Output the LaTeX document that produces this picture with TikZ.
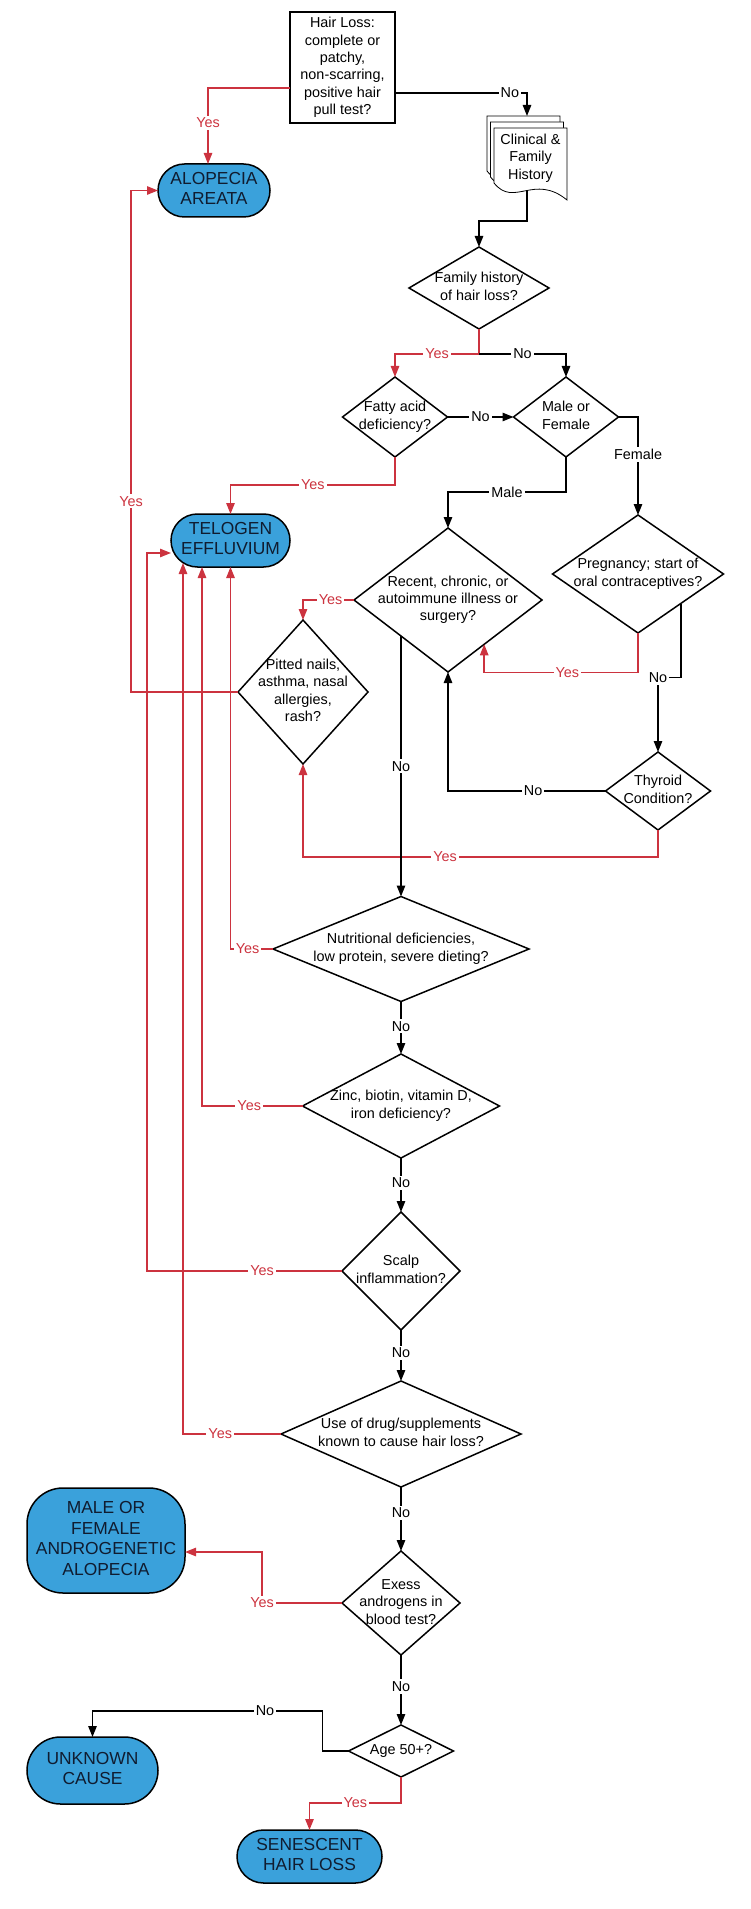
\documentclass[tikz,border=0pt]{standalone}
\usepackage{fontspec}
\setmainfont{Liberation Sans}
\usetikzlibrary{arrows.meta,calc,shapes.geometric,shapes.misc,backgrounds}
\definecolor{yesred}{RGB}{204,51,63}
\definecolor{outblue}{RGB}{58,161,219}
\definecolor{outtext}{RGB}{16,28,48}
\newcommand{\qfont}{\fontsize{7.2}{8.7}\selectfont}
\newcommand{\ofont}{\fontsize{8.7}{10.2}\selectfont}
\newcommand{\ztext}[1]{\raisebox{-.25em}[0pt][0pt]{\makebox[0pt]{\begin{tabular}{@{}c@{}}#1\end{tabular}}}}
\tikzset{
    >={Triangle[length=5.5pt,width=4.2pt]},
    question/.style={rectangle,draw,fill=white,align=center,font=\qfont,minimum width=52.5pt,minimum height=55.5pt,inner sep=1pt,outer sep=0pt},
    doc/.style={rectangle,align=center,font=\qfont,minimum width=36.5pt,minimum height=30pt,inner sep=0pt,outer sep=0pt},
    decision/.style 2 args={diamond,draw,fill=white,font=\qfont,inner sep=0pt,outer sep=0pt,minimum width=#1*0.5pt,minimum height=#2*0.5pt},
    outcome/.style 2 args={rounded rectangle,draw,fill=outblue,text=outtext,font=\ofont,inner sep=0pt,outer sep=0pt,minimum width=#1*0.5pt,minimum height=#2*0.5pt},
    ans/.style={fill=white,inner sep=1pt,font=\qfont},
    noline/.style={->,color=black},
    yesline/.style={->,color=yesred},
}

\begin{document}
\begin{tikzpicture}[x=0.5pt,y=-0.5pt,line width=0.75pt]
\useasboundingbox (0,0) rectangle (750,1909);

% questions
\node[question] (hair) at (342.5,67.5) {Hair Loss:\\complete or\\patchy,\\non-scarring,\\positive hair\\pull test?};
\node[doc] (clin) at (530.5,158) {Clinical \&\\Family\\History};
\node[decision={140}{82}] (fam) at (479,288) {\ztext{Family history\\of hair loss?}};
\node[decision={105}{80}] (fatty) at (395,417) {\ztext{Fatty acid\\deficiency?}};
\node[decision={105}{80}] (mf) at (566,417) {\ztext{Male or\\Female}};
\node[decision={188}{144}] (recent) at (448,600) {\ztext{Recent, chronic, or\\autoimmune illness or\\surgery?}};
\node[decision={171}{118}] (preg) at (638,574) {\ztext{Pregnancy; start of\\oral contraceptives?}};
\node[decision={130}{144}] (pit) at (303,692) {\ztext{Pitted nails,\\asthma, nasal\\allergies,\\rash?}};
\node[decision={105}{78}] (thy) at (658,791) {\ztext{Thyroid\\Condition?}};
\node[decision={256}{105}] (nutri) at (401,949) {\ztext{Nutritional deficiencies,\\low protein, severe dieting?}};
\node[decision={197}{104}] (zinc) at (401,1106) {\ztext{Zinc, biotin, vitamin D,\\iron deficiency?}};
\node[decision={118}{118}] (scalp) at (401,1271) {\ztext{Scalp\\inflammation?}};
\node[decision={240}{106}] (drug) at (401,1434) {\ztext{Use of drug/supplements\\known to cause hair loss?}};
\node[decision={118}{104}] (exess) at (401,1603) {\ztext{Exess\\androgens in\\blood test?}};
\node[decision={105}{52}] (age) at (401,1751) {\ztext{Age 50+?}};

% outcomes
\node[outcome={112}{53}] (alop) at (214,190.5) {\ztext{ALOPECIA\\AREATA}};
\node[outcome={119}{53}] (tel) at (230.5,540.5) {\ztext{TELOGEN\\EFFLUVIUM}};
\node[outcome={158}{105},rectangle,rounded corners=18pt] (andro) at (106,1540.5) {\ztext{MALE OR\\FEMALE\\ANDROGENETIC\\ALOPECIA}};
\node[outcome={131}{67}] (unk) at (92.5,1770.5) {\ztext{UNKNOWN\\CAUSE}};
\node[outcome={145}{53}] (sen) at (309.5,1856.5) {\ztext{SENESCENT\\HAIR LOSS}};

% stacked pages behind the history node
\begin{scope}[on background layer]
\foreach \s in {2,1,0}{
    \coordinate (pg) at ($(clin.north west)+(-3.5*\s,-6*\s)$);
    \draw[fill=white] (pg) -- ($(pg)+(73,0)$) -- ($(pg)+(73,72)$) .. controls ($(pg)+(40,45)$) and ($(pg)+(20,80)$) .. ($(pg)+(0,55)$) -- cycle;
}
\end{scope}

\draw[yesline] ($(hair.west)+(0,20.5)$) -| node[ans,pos=0.73]{Yes} ($(alop.north)+(-6,0)$);
\draw[noline] ($(hair.east)+(0,25.5)$) -| node[ans,pos=0.435]{No} ($(clin.north)+(-3.5,-12)$);
\draw[noline] ($(clin.south)+(-3.5,3)$) -- ++(0,30) -| (fam.north);

\draw[yesline] (fam.south) -- ++(0,25) -| node[ans,pos=0.25]{Yes} (fatty.north);
\draw[noline] ($(fam.south)+(0,25)$) -| node[ans,pos=0.25]{No} (mf.north);
\draw[noline] (fatty.east) -- node[ans]{No} (mf.west);
\draw[yesline] (fatty.south) -- ++(0,28) -| node[ans,pos=0.25]{Yes} (tel.north);
\draw[noline] (mf.south) -- ++(0,35) -| node[ans,pos=0.25]{Male} (recent.north);
\draw[noline] (mf.east) -| node[ans,pos=0.69]{Female} (preg.north);

\draw[yesline] (recent.west) -| node[ans,pos=0.23]{Yes} (pit.north);
\coordinate (recin) at ($(recent.south east)!0.23!(recent.south)$);
\draw[yesline] (preg.south) |- node[ans,pos=0.73]{Yes} ($(recin)+(0,28)$) -- (recin);
\draw[noline] (preg.south east) -- ++(0,74) -| node[ans,pos=0.5]{No} (thy.north);
\draw[noline] (thy.west) -| node[ans,pos=0.23]{No} (recent.south);
\draw[yesline] (thy.south) -- ++(0,27) -| node[ans,pos=0.3]{Yes} (pit.south);
\draw[yesline] (pit.west) -- ++(-107,0) |- node[ans,pos=0.19]{Yes} (alop.west);

\draw[noline] (recent.south west) -- node[ans]{No} (nutri.north);
\draw[yesline] (nutri.west) -| node[ans,pos=0.3]{Yes} (tel.south);
\draw[noline] (nutri.south) -- node[ans,pos=0.47]{No} (zinc.north);
\draw[yesline] (zinc.west) -| node[ans,pos=0.265]{Yes} ($(tel.south)+(-28.5,0)$);
\draw[noline] (zinc.south) -- node[ans,pos=0.46]{No} (scalp.north);
\draw[yesline] (scalp.west) -- node[ans,pos=0.41]{Yes} ++(-195,0) |- ($(tel.west)+(0,12.5)$);
\draw[noline] (scalp.south) -- node[ans,pos=0.45]{No} (drug.north);
\draw[yesline] (drug.west) -| node[ans,pos=0.31]{Yes} ($(tel.south)+(-47.5,-4)$);
\draw[noline] (drug.south) -- node[ans,pos=0.4]{No} (exess.north);
\draw[yesline] (exess.west) -- ++(-80,0) node[ans]{Yes} |- ($(andro.east)+(0,11.5)$);
\draw[noline] (exess.south) -- node[ans,pos=0.45]{No} (age.north);
\draw[noline] (age.west) -- ++(-26,0) -- ++(0,-40) -| node[ans,pos=0.125]{No} (unk.north);
\draw[yesline] (age.south) -- ++(0,26) -| node[ans,pos=0.25]{Yes} (sen.north);

\end{tikzpicture}
\end{document}
